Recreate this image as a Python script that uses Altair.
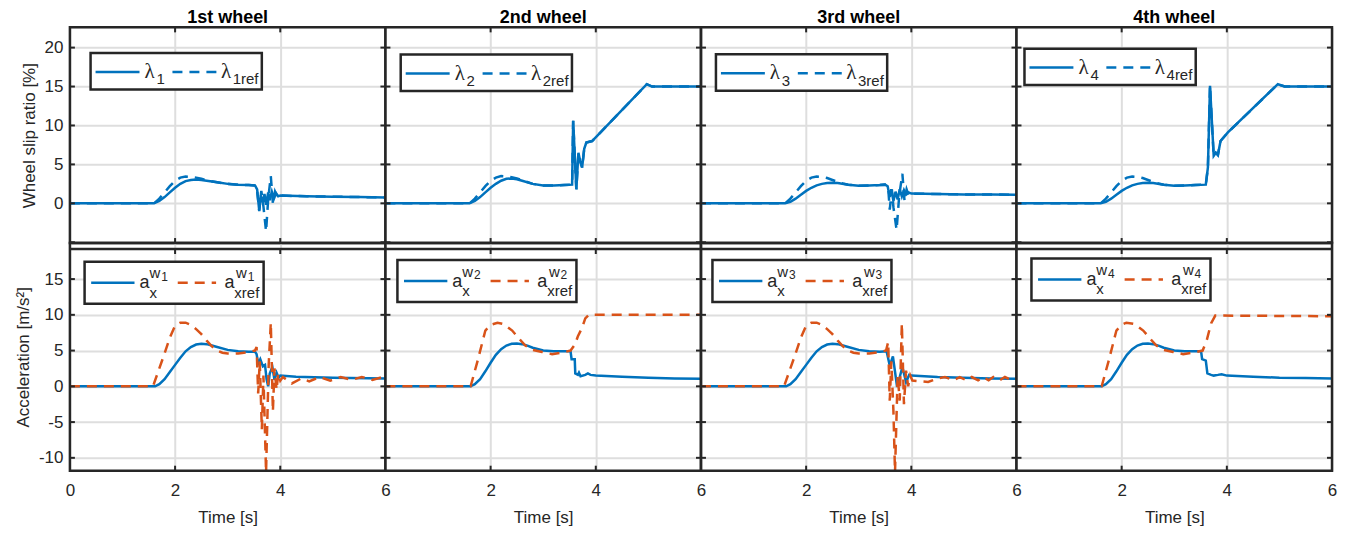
import altair as alt
import pandas as pd

FONT = "Liberation Sans"
SERIF = "Liberation Serif"
BLUE = "#0072BD"
ORANGE = "#D95319"
DARK = "#262626"
GRID = "#dedede"

TITLES = ["1st wheel", "2nd wheel", "3rd wheel", "4th wheel"]
X_TICKS = [0, 2, 4, 6]
TOP_TICKS = [-5, 0, 5, 10, 15, 20]
BOT_TICKS = [-10, -5, 0, 5, 10, 15]

# ---------------- wheel slip ratio [%] ----------------
T_S1 = [0, 1.6, 1.7, 1.8, 1.9, 2.0, 2.1, 2.2, 2.3, 2.4, 2.5, 2.6, 2.8, 3.0, 3.2, 3.4, 3.52, 3.56, 3.6, 3.63,
        3.67, 3.7, 3.73, 3.77, 3.8, 3.84, 3.88, 3.92, 3.96, 4.0, 4.5, 5.0, 5.5, 6.0]
S1 = [0, 0, 0.3, 0.8, 1.4, 2.0, 2.5, 2.85, 3.0, 3.05, 3.0, 2.9, 2.7, 2.5, 2.4, 2.35, 2.3, 1.8, -0.9, 1.0,
      0.1, 1.2, -0.2, 1.4, 0.4, 1.5, 0.6, 1.3, 0.9, 1.0, 0.9, 0.85, 0.8, 0.75]
T_S1R = [0, 1.6, 1.7, 1.8, 1.9, 2.0, 2.1, 2.2, 2.3, 2.4, 2.5, 2.6, 2.8, 3.0, 3.2, 3.4, 3.52, 3.56, 3.6, 3.64,
         3.68, 3.73, 3.77, 3.82, 3.86, 3.9, 3.95, 4.0, 4.5, 5.0, 5.5, 6.0]
S1R = [0, 0, 0.6, 1.4, 2.2, 2.9, 3.3, 3.45, 3.4, 3.3, 3.15, 2.95, 2.7, 2.5, 2.4, 2.35, 2.3, 1.6, -1.0, 1.6,
       -0.4, -3.6, 0.5, 3.5, 0.0, 1.5, 0.7, 1.0, 0.9, 0.85, 0.8, 0.75]

T_S2 = [0, 1.6, 1.7, 1.8, 1.9, 2.0, 2.1, 2.2, 2.3, 2.4, 2.5, 2.6, 2.8, 3.0, 3.2, 3.4, 3.55, 3.57, 3.63,
        3.67, 3.7, 3.74, 3.78, 3.82, 3.93, 4.97, 5.07, 6.0]
S2 = [0, 0, 0.3, 0.8, 1.4, 2.0, 2.5, 2.9, 3.15, 3.2, 3.1, 2.9, 2.5, 2.3, 2.3, 2.35, 2.4, 10.6, 1.8,
      6.5, 5.5, 4.6, 7.0, 7.8, 8.0, 15.3, 15.0, 15.0]
T_S2R = [0, 1.6, 1.7, 1.8, 1.9, 2.0, 2.1, 2.2, 2.3, 2.4, 2.5, 2.6, 2.8, 3.0, 3.2, 3.4, 3.55, 3.57, 3.63,
         3.67, 3.7, 3.74, 3.78, 3.82, 3.93, 4.97, 5.07, 6.0]
S2R = [0, 0, 0.6, 1.4, 2.2, 2.9, 3.3, 3.5, 3.45, 3.35, 3.2, 2.95, 2.5, 2.3, 2.3, 2.35, 2.4, 10.6, 1.8,
       6.5, 5.5, 4.6, 7.0, 7.8, 8.0, 15.3, 15.0, 15.0]

T_S3 = [0, 1.6, 1.7, 1.8, 1.9, 2.0, 2.1, 2.2, 2.3, 2.4, 2.5, 2.6, 2.8, 3.0, 3.2, 3.4, 3.5, 3.55, 3.59, 3.62,
        3.66, 3.7, 3.74, 3.78, 3.82, 3.86, 3.9, 3.95, 4.0, 4.5, 5.0, 5.5, 6.0]
S3 = [0, 0, 0.2, 0.6, 1.1, 1.6, 2.0, 2.3, 2.5, 2.6, 2.65, 2.6, 2.4, 2.25, 2.3, 2.35, 2.4, 2.2, 0.8, 1.8,
      0.3, 1.5, 0.5, 1.8, 0.9, 1.7, 1.1, 1.4, 1.25, 1.2, 1.15, 1.15, 1.1]
T_S3R = [0, 1.6, 1.7, 1.8, 1.9, 2.0, 2.1, 2.2, 2.3, 2.4, 2.5, 2.6, 2.7, 2.8, 3.0, 3.2, 3.4, 3.5, 3.56, 3.59,
         3.63, 3.66, 3.72, 3.77, 3.83, 3.87, 3.91, 3.95, 4.0, 4.5, 5.0, 5.5, 6.0]
S3R = [0, 0, 0.6, 1.4, 2.2, 2.9, 3.3, 3.45, 3.4, 3.25, 3.0, 2.75, 2.55, 2.4, 2.25, 2.3, 2.35, 2.4, 2.0, -0.8,
       1.8, -0.5, -3.4, 1.0, 3.8, 0.4, 1.8, 1.0, 1.25, 1.2, 1.15, 1.15, 1.1]

T_S4 = [0, 1.6, 1.7, 1.8, 1.9, 2.0, 2.1, 2.2, 2.3, 2.4, 2.5, 2.6, 2.8, 3.0, 3.2, 3.4, 3.6, 3.64, 3.68, 3.75,
        3.79, 3.83, 3.88, 4.02, 4.97, 5.1, 6.0]
S4 = [0, 0, 0.2, 0.6, 1.1, 1.6, 2.0, 2.3, 2.5, 2.6, 2.65, 2.6, 2.4, 2.25, 2.3, 2.35, 2.4, 4.6, 15.1, 6.1,
      6.5, 6.2, 8.0, 9.1, 15.3, 15.0, 15.0]
T_S4R = [0, 1.6, 1.7, 1.8, 1.9, 2.0, 2.1, 2.2, 2.3, 2.4, 2.5, 2.6, 2.7, 2.8, 3.0, 3.2, 3.4, 3.6, 3.64, 3.68,
         3.75, 3.79, 3.83, 3.88, 4.02, 4.97, 5.1, 6.0]
S4R = [0, 0, 0.6, 1.4, 2.2, 2.9, 3.3, 3.45, 3.4, 3.25, 3.0, 2.75, 2.55, 2.4, 2.25, 2.3, 2.35, 2.4, 4.6, 15.1,
       6.1, 6.5, 6.2, 8.0, 9.1, 15.3, 15.0, 15.0]

# ---------------- acceleration [m/s^2] ----------------
T_A1 = [0, 1.62, 1.7, 1.8, 1.9, 2.0, 2.1, 2.2, 2.3, 2.4, 2.5, 2.6, 2.7, 2.8, 3.0, 3.2, 3.4, 3.52, 3.55, 3.58,
        3.62, 3.67, 3.71, 3.74, 3.77, 3.8, 3.85, 3.89, 3.93, 3.97, 4.0, 4.3, 5.0, 6.0]
A1 = [0, 0, 0.3, 1.0, 2.0, 3.0, 4.0, 4.9, 5.5, 5.85, 5.95, 5.9, 5.7, 5.5, 5.1, 4.9, 4.85, 4.85, 4.5, 3.2,
      3.8, 2.8, 3.0, 1.0, 0.0, 1.8, 2.7, 0.9, 1.9, 1.2, 1.5, 1.35, 1.2, 1.1]
T_A1R = [0, 1.58, 1.7, 1.8, 1.9, 2.0, 2.1, 2.2, 2.3, 2.4, 2.5, 2.6, 2.7, 2.8, 2.9, 3.0, 3.2, 3.4, 3.52, 3.55,
         3.58, 3.61, 3.65, 3.68, 3.73, 3.78, 3.82, 3.86, 3.89, 3.93, 3.96, 4.0, 4.05, 4.22, 4.4, 4.55, 4.75,
         4.95, 5.15, 5.35, 5.55, 5.75, 5.95, 6.0]
A1R = [0, 0, 2.5, 4.6, 6.8, 8.5, 8.9, 8.9, 8.6, 8.0, 7.3, 6.4, 5.6, 5.0, 4.7, 4.6, 4.6, 4.8, 5.0, 5.5,
       -1.0, 3.5, -6.0, 1.5, -12.0, 3.0, 8.9, -3.5, 2.5, -0.5, 1.8, 0.8, 1.3, 0.4, 1.1, 0.7, 1.3,
       0.8, 1.3, 0.9, 1.3, 0.9, 1.3, 1.1]

T_A2 = [0, 1.62, 1.7, 1.8, 1.9, 2.0, 2.1, 2.2, 2.3, 2.4, 2.5, 2.6, 2.7, 2.8, 3.0, 3.2, 3.4, 3.52, 3.54, 3.6,
        3.61, 3.66, 3.68, 3.71, 3.8, 3.85, 3.9, 4.0, 4.5, 5.0, 5.5, 6.0]
A2 = [0, 0, 0.3, 1.0, 2.1, 3.3, 4.4, 5.2, 5.7, 5.95, 6.0, 5.9, 5.7, 5.4, 5.0, 4.9, 4.9, 4.9, 3.8, 3.8,
      1.8, 1.6, 1.9, 1.4, 1.6, 1.8, 1.6, 1.5, 1.35, 1.2, 1.1, 1.05]
T_A2R = [0, 1.62, 1.75, 1.9, 2.0, 2.13, 2.25, 2.41, 2.55, 2.66, 2.8, 2.98, 3.17, 3.35, 3.52, 3.6, 3.66,
         3.74, 3.8, 3.87, 6.0]
A2R = [0, 0, 3.5, 7.8, 8.6, 8.9, 8.7, 7.8, 6.6, 5.7, 5.1, 4.8, 4.5, 4.7, 5.0, 5.8, 7.0,
       8.2, 9.5, 10.0, 10.0]

T_A3 = [0, 1.62, 1.7, 1.8, 1.9, 2.0, 2.1, 2.2, 2.3, 2.4, 2.5, 2.6, 2.7, 2.8, 3.0, 3.2, 3.4, 3.53, 3.59, 3.65,
        3.73, 3.83, 3.9, 3.96, 4.0, 4.5, 5.0, 5.5, 6.0]
A3 = [0, 0, 0.3, 1.0, 2.0, 3.0, 4.0, 4.9, 5.5, 5.85, 5.95, 5.9, 5.7, 5.5, 5.1, 4.9, 4.85, 4.9, 2.9, 4.2,
      -0.1, 2.7, 0.6, 1.6, 1.5, 1.3, 1.2, 1.1, 1.05]
T_A3R = [0, 1.58, 1.7, 1.8, 1.9, 2.0, 2.1, 2.2, 2.3, 2.4, 2.5, 2.6, 2.7, 2.8, 2.9, 3.0, 3.2, 3.4, 3.52, 3.56,
         3.59, 3.62, 3.66, 3.69, 3.74, 3.78, 3.82, 3.86, 3.9, 3.94, 3.98, 4.02, 4.32, 4.5, 4.64, 4.8, 4.92,
         5.05, 5.15, 5.27, 5.37, 5.47, 5.56, 5.68, 5.78, 5.9, 6.0]
A3R = [0, 0, 2.5, 4.6, 6.8, 8.5, 8.9, 8.9, 8.6, 8.0, 7.3, 6.4, 5.6, 5.0, 4.7, 4.6, 4.6, 4.8, 5.0, 6.2,
       -2.0, 3.5, -3.5, -12.0, 1.5, -2.0, 8.8, -2.5, 2.2, 0.0, 1.5, 0.8, 0.6, 1.1, 1.3, 0.85, 1.3,
       0.85, 1.3, 0.85, 1.3, 0.85, 1.3, 0.85, 1.3, 0.9, 1.1]

T_A4 = [0, 1.62, 1.7, 1.8, 1.9, 2.0, 2.1, 2.2, 2.3, 2.4, 2.5, 2.6, 2.7, 2.8, 3.0, 3.2, 3.4, 3.51, 3.53, 3.6,
        3.63, 3.7, 3.75, 3.83, 3.9, 4.0, 4.5, 5.0, 5.5, 6.0]
A4 = [0, 0, 0.3, 1.0, 2.1, 3.3, 4.4, 5.2, 5.7, 5.95, 6.0, 5.9, 5.7, 5.4, 5.0, 4.9, 4.9, 4.9, 3.8, 3.6,
      1.8, 1.6, 1.5, 1.6, 1.7, 1.5, 1.35, 1.2, 1.15, 1.1]
T_A4R = [0, 1.62, 1.75, 1.9, 2.0, 2.09, 2.25, 2.41, 2.55, 2.66, 2.8, 2.98, 3.17, 3.35, 3.54, 3.62, 3.7,
         3.78, 6.0]
A4R = [0, 0, 3.5, 7.8, 8.6, 8.9, 8.7, 7.8, 6.6, 5.7, 5.1, 4.8, 4.5, 4.7, 5.0, 6.5, 8.8,
       9.9, 9.8]

SLIP = [(T_S1, S1, T_S1R, S1R), (T_S2, S2, T_S2R, S2R), (T_S3, S3, T_S3R, S3R), (T_S4, S4, T_S4R, S4R)]
ACC = [(T_A1, A1, T_A1R, A1R), (T_A2, A2, T_A2R, A2R), (T_A3, A3, T_A3R, A3R), (T_A4, A4, T_A4R, A4R)]

# legend box positions inside each panel (pixels from the panel's top-left)
SLIP_LEG = [(20.7, 25.7), (15.3, 27.3), (15.0, 27.0), (8.0, 21.3)]
ACC_LEG = [(14.7, 18.7), (12.0, 17.0), (11.5, 17.0), (15.0, 15.5)]

W = 316
H_TOP = 216
H_BOT = 228
TOP_DOMAIN = [-5.1, 22.6]
BOT_DOMAIN = [-11.8, 20.04]
LW = 2.5
DASH = [10, 7]

ONE = alt.Data(values=[{"k": 0}])


def txt(text, x, y, size, font=FONT, color=DARK, weight="normal", align="left"):
    return alt.Chart(ONE).mark_text(text=text, align=align, baseline="alphabetic", fontSize=size,
                                    font=font, color=color, fontWeight=weight).encode(
        x=alt.value(x), y=alt.value(y))


def hrule(x1, x2, y, color, width, dash=None):
    kw = dict(color=color, strokeWidth=width)
    if dash:
        kw["strokeDash"] = dash
    return alt.Chart(ONE).mark_rule(**kw).encode(x=alt.value(x1), x2=alt.value(x2), y=alt.value(y))


def box(x1, x2, y1, y2, fill="white"):
    return alt.Chart(ONE).mark_rect(fill=fill, stroke=DARK, strokeWidth=2.5).encode(
        x=alt.value(x1), x2=alt.value(x2), y=alt.value(y1), y2=alt.value(y2))


def slip_legend(i, L, T):
    n = str(i + 1)
    return [
        box(L, L + 171.5, T, T + 36.5),
        hrule(L + 5, L + 49, T + 19, BLUE, LW),
        txt("λ", L + 54, T + 25, 21, SERIF),
        txt(n, L + 66, T + 31.5, 15),
        hrule(L + 82, L + 127, T + 19, BLUE, LW, DASH),
        txt("λ", L + 130.5, T + 25, 21, SERIF),
        txt(n + "ref", L + 142.3, T + 31.5, 15),
    ]


def acc_legend(i, L, T):
    n = str(i + 1)
    return [
        box(L, L + 179.3, T, T + 42),
        hrule(L + 6.6, L + 50, T + 21, BLUE, LW),
        txt("a", L + 55, T + 26.6, 18),
        txt("w", L + 65, T + 16.6, 15),
        txt("x", L + 65, T + 36, 15),
        txt(n, L + 76.7, T + 19.3, 12),
        hrule(L + 93.3, L + 131.7, T + 21, ORANGE, LW, DASH),
        txt("a", L + 140, T + 26.6, 18),
        txt("w", L + 151.7, T + 16.6, 15),
        txt("xref", L + 150, T + 36, 15),
        txt(n, L + 163.3, T + 19.3, 12),
    ]


def panel(row, col):
    top = row == 0
    H = H_TOP if top else H_BOT
    dom = TOP_DOMAIN if top else BOT_DOMAIN
    yt = TOP_TICKS if top else BOT_TICKS

    axis_common = dict(grid=True, gridColor=GRID, gridWidth=2, domain=False, ticks=False,
                       labelFont=FONT, labelFontSize=17, labelColor=DARK,
                       titleFont=FONT, titleFontSize=17, titleFontWeight="normal", titleColor=DARK)
    if top:
        xaxis = alt.Axis(values=X_TICKS, labels=False, title=None, **axis_common)
    else:
        expr = "'' + datum.value" if col == 0 else "datum.value == 0 ? '' : '' + datum.value"
        xaxis = alt.Axis(values=X_TICKS, labelExpr=expr, labelFlush=False, labelPadding=12,
                         title="Time [s]", titlePadding=11, **axis_common)
    if col == 0:
        ytitle = "Wheel slip ratio [%]" if top else "Acceleration [m/s²]"
        yexpr = "datum.value < 0 ? '' : '' + datum.value" if top else "'' + datum.value"
        yaxis = alt.Axis(values=yt, labelExpr=yexpr, labelPadding=7, title=ytitle, titlePadding=6,
                         **axis_common)
    else:
        yaxis = alt.Axis(values=yt, labels=False, title=None, **axis_common)

    X = alt.X("t:Q", scale=alt.Scale(domain=[0, 6], nice=False, zero=False), axis=xaxis)
    Y = alt.Y("v:Q", scale=alt.Scale(domain=dom, nice=False, zero=False), axis=yaxis)

    t, v, tr, vr = (SLIP if top else ACC)[col]
    ref_color = BLUE if top else ORANGE
    meas = alt.Chart(pd.DataFrame({"t": t, "v": v})).mark_line(
        color=BLUE, strokeWidth=LW, clip=True).encode(x=X, y=Y)
    ref = alt.Chart(pd.DataFrame({"t": tr, "v": vr})).mark_line(
        color=ref_color, strokeWidth=LW, strokeDash=DASH, clip=True).encode(x=X, y=Y)

    ydf = pd.DataFrame({"v": yt})
    xdf = pd.DataFrame({"t": [2, 4]})
    ttop = 0 if top else 6
    ticks = [
        alt.Chart(ydf).mark_rule(color=DARK, strokeWidth=2).encode(y=Y, x=alt.value(0), x2=alt.value(5)),
        alt.Chart(ydf).mark_rule(color=DARK, strokeWidth=2).encode(y=Y, x=alt.value(W - 5), x2=alt.value(W)),
        alt.Chart(xdf).mark_rule(color=DARK, strokeWidth=2).encode(x=X, y=alt.value(ttop), y2=alt.value(ttop + 5)),
        alt.Chart(xdf).mark_rule(color=DARK, strokeWidth=2).encode(x=X, y=alt.value(H - 5), y2=alt.value(H)),
    ]
    frame = [box(0, W, 0, H, fill="transparent")]
    if not top:
        frame.append(hrule(0, W, 6, DARK, 2.5))
    else:
        frame.append(txt(TITLES[col], W / 2, -4, 18, FONT, "#000000", "bold", "center"))

    if top:
        leg = slip_legend(col, *SLIP_LEG[col])
    else:
        leg = acc_legend(col, *ACC_LEG[col])

    return alt.layer(meas, ref, *ticks, *frame, *leg).properties(width=W, height=H)


panels = [panel(r, c) for r in range(2) for c in range(4)]
chart = alt.concat(*panels, columns=4, spacing=0, bounds="flush").properties(
    padding={"left": 5, "top": 0, "right": 5, "bottom": 5}
).configure_view(stroke=None).configure(background="white")

chart.save("out.html", embed_options={"renderer": "svg", "actions": False})
